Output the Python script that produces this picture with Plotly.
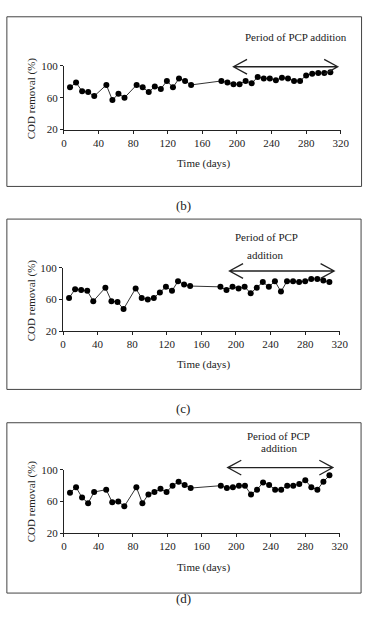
import plotly.graph_objects as go

# ---------------- data ----------------
days = [7, 14, 21, 28, 35, 49, 56, 63, 70, 84, 91, 98, 105, 112, 119, 126, 133, 140, 147,
        182, 189, 196, 203, 210, 217, 224, 231, 238, 245, 252, 259, 266, 273, 280, 287, 294, 301, 308]

cod_b = [73, 79, 68, 67, 62, 76, 57, 65, 60, 76, 73, 67, 74, 71, 81, 73, 84, 81, 76,
         81, 79, 77, 77, 81, 78, 86, 84, 84, 82, 85, 84, 81, 81, 88, 90, 91, 91, 92]

cod_c = [62, 73, 72, 71, 58, 75, 58, 57, 48, 74, 62, 60, 62, 69, 76, 71, 83, 79, 77,
         76, 72, 76, 74, 76, 68, 75, 82, 76, 83, 70, 83, 83, 82, 83, 86, 86, 84, 82]

cod_d = [71, 78, 65, 58, 72, 75, 59, 60, 54, 78, 58, 69, 72, 76, 72, 80, 85, 81, 77,
         80, 77, 78, 80, 80, 69, 75, 84, 81, 75, 75, 80, 80, 82, 87, 78, 75, 85, 93]

x_ticks = [0, 40, 80, 120, 160, 200, 240, 280, 320]
y_ticks = [20, 60, 100]
x_range = [0, 320]
y_range = [20, 100]

panel_labels = ["(b)", "(c)", "(d)"]
series = [cod_b, cod_c, cod_d]
x_title = "Time (days)"
y_title = "COD removal (%)"

# PCP addition arrows: (start day, end day, level %)
arrows = [(196, 316.5, 98.8), (192.5, 313.5, 96.0), (190, 312, 102.8)]
period_texts = [["Period of PCP addition"], ["Period of PCP", "addition"], ["Period of PCP", "addition"]]

# ---------------- layout geometry (pixels) ----------------
W, H = 372, 618
FONT = "Liberation Serif, Times New Roman, serif"
TXT = "#222222"

geo = [
    dict(xpx=(63, 349), ypx=(61, 126), box=(4, 11, 370.5, 184), lab=(186, 203),
         xt=(207, 160.7), yt=(29, 94), ptxt=[(303, 32)]),
    dict(xpx=(62, 348), ypx=(267, 331.7), box=(4, 217.3, 370, 391), lab=(186, 410),
         xt=(207, 365.7), yt=(29, 300), ptxt=[(272.7, 235.7), (271.7, 254.3)]),
    dict(xpx=(63, 348), ypx=(473, 537.7), box=(4, 425, 370, 598.7), lab=(186, 604),
         xt=(207, 572.7), yt=(29, 505), ptxt=[(284.3, 439), (286, 450.7)]),
]


def fx(p):
    return p / W


def fy(p):
    return 1 - p / H


fig = go.Figure()
shapes = []
annotations = []
layout = {}

for i, (g, cod) in enumerate(zip(geo, series)):
    n = "" if i == 0 else str(i + 1)
    fig.add_trace(go.Scatter(
        x=days, y=cod, mode="lines+markers",
        line=dict(color="#333333", width=1),
        marker=dict(size=6, color="black"),
        xaxis="x" + n, yaxis="y" + n, showlegend=False, cliponaxis=False))

    ax = dict(showline=True, linecolor=TXT, linewidth=1, ticks="outside", ticklen=3,
              tickcolor=TXT, showgrid=False, zeroline=False,
              tickfont=dict(family=FONT, size=11, color=TXT), fixedrange=True)
    layout["xaxis" + n] = dict(ax, domain=[fx(g["xpx"][0]), fx(g["xpx"][1])], range=x_range,
                               tickvals=x_ticks, anchor="y" + n)
    layout["yaxis" + n] = dict(ax, domain=[fy(g["ypx"][1]), fy(g["ypx"][0])], range=y_range,
                               tickvals=y_ticks, anchor="x" + n)

    # outer frame
    x0, y0, x1, y1 = g["box"]
    shapes.append(dict(type="rect", xref="paper", yref="paper", x0=fx(x0), x1=fx(x1),
                       y0=fy(y1), y1=fy(y0), line=dict(color="#444444", width=1)))

    # arrow (map data -> pixel through the panel's axis geometry)
    def dpx(day, g=g):
        return g["xpx"][0] + (day - x_range[0]) / (x_range[1] - x_range[0]) * (g["xpx"][1] - g["xpx"][0])

    def vpx(v, g=g):
        return g["ypx"][1] - (v - y_range[0]) / (y_range[1] - y_range[0]) * (g["ypx"][1] - g["ypx"][0])

    s, e, lvl = arrows[i]
    xs, xe, yy = dpx(s), dpx(e), vpx(lvl)
    aw, ah = 14, 7.5
    path = (f"M{fx(xs + aw)},{fy(yy - ah)} L{fx(xs)},{fy(yy)} L{fx(xs + aw)},{fy(yy + ah)} "
            f"M{fx(xs)},{fy(yy)} L{fx(xe)},{fy(yy)} "
            f"M{fx(xe - aw)},{fy(yy - ah)} L{fx(xe)},{fy(yy)} L{fx(xe - aw)},{fy(yy + ah)}")
    shapes.append(dict(type="path", xref="paper", yref="paper", path=path,
                       line=dict(color="#222222", width=1.3)))

    for t, (tx, ty) in zip(period_texts[i], g["ptxt"]):
        annotations.append(dict(text=t, x=fx(tx), y=fy(ty), xref="paper", yref="paper",
                                showarrow=False, xanchor="center", yanchor="middle",
                                font=dict(family=FONT, size=11, color=TXT)))

    annotations.append(dict(text=x_title, x=fx(g["xt"][0]), y=fy(g["xt"][1]), xref="paper",
                            yref="paper", showarrow=False, xanchor="center", yanchor="middle",
                            font=dict(family=FONT, size=11, color=TXT)))
    annotations.append(dict(text=y_title, x=fx(g["yt"][0]), y=fy(g["yt"][1]), xref="paper",
                            yref="paper", showarrow=False, xanchor="center", yanchor="middle",
                            textangle=-90, font=dict(family=FONT, size=11, color=TXT)))
    annotations.append(dict(text=panel_labels[i], x=fx(g["lab"][0]), y=fy(g["lab"][1]),
                            xref="paper", yref="paper", showarrow=False, xanchor="center",
                            yanchor="middle", font=dict(family=FONT, size=13, color=TXT)))

fig.update_layout(width=W, height=H, autosize=False, margin=dict(l=0, r=0, t=0, b=0),
                  paper_bgcolor="white", plot_bgcolor="white", shapes=shapes,
                  annotations=annotations, **layout)

fig.write_html("out.html", config={"displayModeBar": False})
